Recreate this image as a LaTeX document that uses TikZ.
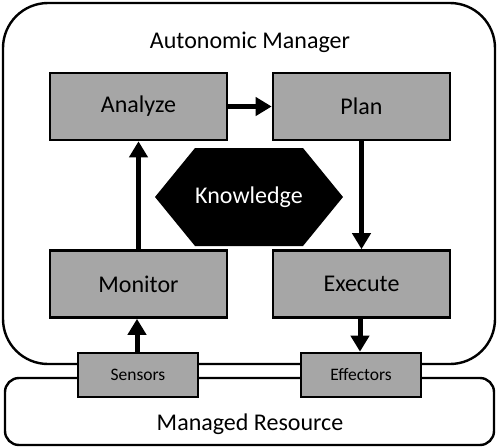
\documentclass[tikz,border=0pt]{standalone}
\usepackage{fontspec}
\setmainfont{Carlito}
\usetikzlibrary{arrows.meta}
\begin{document}
\begin{tikzpicture}[x=1pt,y=-1pt,
  comp/.style={draw=black,line width=2.6pt,fill=black!35,minimum width=177pt,minimum height=67pt,inner sep=0pt,font=\fontsize{24}{26}\selectfont},
  io/.style={draw=black,line width=2.6pt,fill=black!35,minimum width=120pt,minimum height=44pt,inner sep=0pt,font=\fontsize{17.5}{19}\selectfont},
  flow/.style={line width=5pt,-{Triangle[length=16pt,width=18pt]}},
  frame/.style={draw=black,line width=2.4pt}]
\useasboundingbox (0,0) rectangle (499,448);
% frames
\draw[frame,rounded corners=45pt] (3,3) rectangle (495,364);
\draw[frame,rounded corners=14pt] (5,378) rectangle (494,445);
\node[font=\fontsize{24}{26}\selectfont] (am) at (250,42) {Autonomic Manager};
\node[font=\fontsize{24}{26}\selectfont] (mr) at (250,424) {Managed Resource};
% components
\node[comp] (analyze) at (138.5,106.5) {Analyze};
\node[comp] (plan) at (361.5,106.5) {Plan};
\node[comp] (monitor) at (138.5,284) {Monitor};
\node[comp] (execute) at (361.5,284) {Execute};
\node[io] (sensors) at (138,375) {Sensors};
\node[io] (effectors) at (361,375) {Effectors};
% knowledge
\fill[black] (155,197) -- (195,148) -- (303,148) -- (343,197) -- (303,246) -- (195,246) -- cycle;
\node[text=white,font=\fontsize{24}{26}\selectfont] (knowledge) at (249,197) {Knowledge};
% arrows
\draw[flow] (analyze.east) -- (plan.west);
\draw[flow] (plan.south) -- (execute.north);
\draw[flow] (monitor.north) -- (analyze.south);
\draw[flow] ([xshift=-1pt]sensors.north) -- ([xshift=-1.5pt]monitor.south);
\draw[flow] ([xshift=-1.5pt]execute.south) -- ([xshift=-1pt]effectors.north);
\end{tikzpicture}
\end{document}
